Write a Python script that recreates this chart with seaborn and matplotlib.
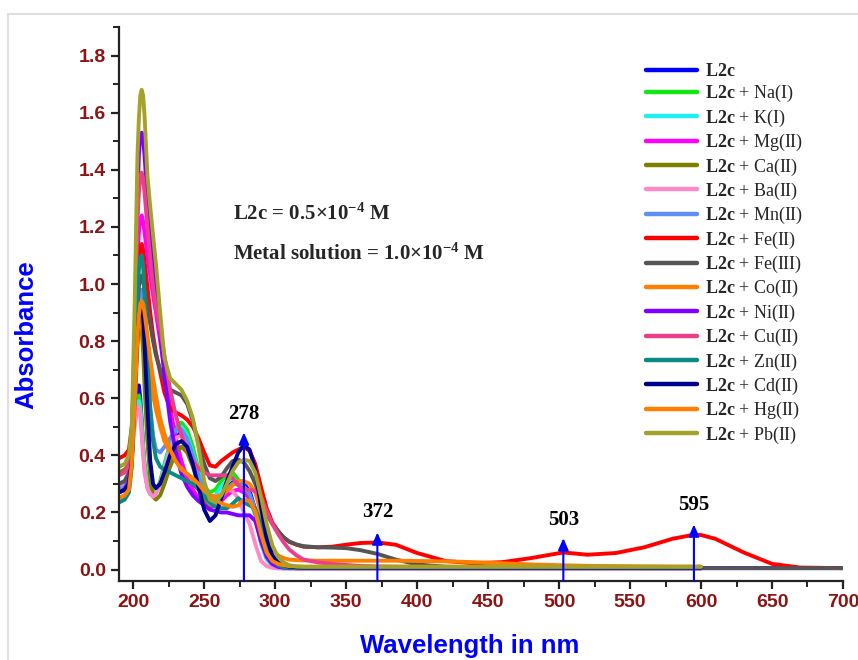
import matplotlib
matplotlib.use("Agg")
import matplotlib.pyplot as plt
import pandas as pd
import seaborn as sns
from matplotlib.lines import Line2D
from matplotlib.ticker import MultipleLocator, FormatStrFormatter

# ---------------------------------------------------------------- wavelengths
WL_UV = [190, 194, 197, 199, 201, 203, 204, 205, 206, 207, 208, 210, 212, 214,
         216, 219, 222, 226, 230, 234, 238, 242, 246, 250, 254, 258, 262, 266,
         270, 274, 278, 282, 286, 290, 294, 298, 302, 306, 310, 315, 320]
WL_VIS = [330, 340, 350, 360, 372, 385, 400, 420, 440, 460, 480, 503, 520, 540,
          560, 580, 595, 600, 610, 630, 650, 670, 700]

# ---------------------------------------------------------------- absorbance, UV part
L2C_UV = [0.27, 0.28, 0.31, 0.40, 0.56, 0.64, 0.645, 0.60, 0.52, 0.43, 0.36, 0.29, 0.265, 0.26,
          0.27, 0.30, 0.35, 0.42, 0.47, 0.48, 0.455, 0.40, 0.32, 0.25, 0.22, 0.225, 0.255, 0.285,
          0.305, 0.31, 0.30, 0.275, 0.21, 0.11, 0.045, 0.018, 0.009, 0.006, 0.005, 0.005, 0.005]
NA_UV = [0.30, 0.31, 0.33, 0.41, 0.54, 0.60, 0.61, 0.58, 0.51, 0.43, 0.37, 0.30, 0.275, 0.265,
         0.275, 0.31, 0.37, 0.44, 0.50, 0.515, 0.49, 0.43, 0.35, 0.29, 0.27, 0.28, 0.31, 0.33,
         0.34, 0.315, 0.28, 0.255, 0.20, 0.10, 0.04, 0.015, 0.008, 0.006, 0.005, 0.005, 0.005]
K_UV = [0.29, 0.30, 0.32, 0.40, 0.52, 0.58, 0.59, 0.56, 0.49, 0.41, 0.35, 0.29, 0.265, 0.26,
        0.27, 0.30, 0.36, 0.43, 0.48, 0.50, 0.47, 0.41, 0.34, 0.28, 0.255, 0.26, 0.29, 0.31,
        0.32, 0.30, 0.27, 0.245, 0.19, 0.09, 0.035, 0.013, 0.007, 0.005, 0.005, 0.005, 0.005]
MG_UV = [0.29, 0.30, 0.33, 0.42, 0.72, 1.08, 1.18, 1.23, 1.24, 1.22, 1.18, 1.10, 1.03, 0.96,
         0.90, 0.80, 0.70, 0.57, 0.46, 0.38, 0.32, 0.28, 0.25, 0.23, 0.22, 0.225, 0.24, 0.26,
         0.275, 0.28, 0.27, 0.25, 0.20, 0.12, 0.05, 0.02, 0.01, 0.007, 0.006, 0.005, 0.005]
CA_UV = [0.34, 0.35, 0.37, 0.45, 0.62, 0.80, 0.85, 0.86, 0.84, 0.76, 0.64, 0.45, 0.32, 0.255,
         0.245, 0.26, 0.30, 0.36, 0.41, 0.43, 0.41, 0.36, 0.30, 0.25, 0.225, 0.23, 0.255, 0.28,
         0.30, 0.305, 0.29, 0.26, 0.20, 0.11, 0.045, 0.018, 0.01, 0.008, 0.007, 0.006, 0.006]
BA_UV = [0.29, 0.30, 0.32, 0.40, 0.50, 0.565, 0.57, 0.54, 0.47, 0.40, 0.34, 0.285, 0.265, 0.255,
         0.265, 0.30, 0.35, 0.42, 0.46, 0.47, 0.445, 0.39, 0.32, 0.265, 0.245, 0.25, 0.265, 0.28,
         0.275, 0.25, 0.20, 0.16, 0.09, 0.03, 0.012, 0.006, 0.004, 0.003, 0.003, 0.003, 0.003]
MN_UV = [0.28, 0.29, 0.32, 0.42, 0.63, 0.88, 0.95, 0.98, 0.98, 0.94, 0.86, 0.70, 0.57, 0.47,
         0.42, 0.41, 0.43, 0.46, 0.49, 0.49, 0.46, 0.40, 0.33, 0.265, 0.23, 0.23, 0.25, 0.28,
         0.30, 0.30, 0.29, 0.265, 0.21, 0.11, 0.045, 0.018, 0.009, 0.006, 0.005, 0.005, 0.005]
FE2_UV = [0.39, 0.40, 0.42, 0.50, 0.72, 1.00, 1.09, 1.13, 1.14, 1.12, 1.08, 0.99, 0.90, 0.82,
          0.76, 0.69, 0.62, 0.565, 0.55, 0.54, 0.525, 0.50, 0.46, 0.41, 0.365, 0.36, 0.38, 0.395,
          0.41, 0.42, 0.43, 0.415, 0.37, 0.29, 0.215, 0.165, 0.135, 0.112, 0.097, 0.087, 0.08]
FE3_UV = [0.30, 0.31, 0.34, 0.43, 0.66, 0.92, 0.99, 1.02, 1.03, 1.01, 0.98, 0.92, 0.86, 0.80,
          0.75, 0.70, 0.66, 0.63, 0.62, 0.61, 0.58, 0.52, 0.44, 0.37, 0.32, 0.31, 0.325, 0.355,
          0.38, 0.385, 0.375, 0.345, 0.30, 0.245, 0.195, 0.16, 0.135, 0.113, 0.098, 0.088, 0.082]
CO_UV = [0.25, 0.26, 0.28, 0.37, 0.56, 0.78, 0.84, 0.87, 0.88, 0.86, 0.82, 0.74, 0.67, 0.61,
         0.56, 0.50, 0.45, 0.41, 0.38, 0.355, 0.335, 0.315, 0.295, 0.275, 0.26, 0.255, 0.26, 0.275,
         0.295, 0.31, 0.31, 0.30, 0.27, 0.20, 0.12, 0.07, 0.05, 0.04, 0.035, 0.033, 0.032]
NI_UV = [0.27, 0.28, 0.31, 0.40, 0.75, 1.30, 1.45, 1.52, 1.53, 1.51, 1.45, 1.30, 1.18, 1.07,
         0.97, 0.83, 0.68, 0.52, 0.41, 0.335, 0.29, 0.26, 0.24, 0.225, 0.21, 0.205, 0.20, 0.20,
         0.195, 0.19, 0.19, 0.19, 0.17, 0.10, 0.045, 0.02, 0.01, 0.007, 0.006, 0.005, 0.005]
CU_UV = [0.33, 0.34, 0.37, 0.46, 0.82, 1.22, 1.32, 1.38, 1.39, 1.37, 1.32, 1.20, 1.09, 0.99,
         0.92, 0.84, 0.75, 0.63, 0.54, 0.47, 0.42, 0.38, 0.355, 0.34, 0.33, 0.33, 0.33, 0.33,
         0.32, 0.295, 0.28, 0.28, 0.275, 0.255, 0.205, 0.16, 0.125, 0.095, 0.07, 0.05, 0.035]
ZN_UV = [0.235, 0.245, 0.27, 0.36, 0.62, 0.96, 1.05, 1.09, 1.10, 1.06, 0.96, 0.74, 0.56, 0.45,
         0.39, 0.36, 0.35, 0.34, 0.33, 0.32, 0.31, 0.30, 0.28, 0.26, 0.235, 0.22, 0.215, 0.215,
         0.23, 0.25, 0.235, 0.225, 0.215, 0.16, 0.085, 0.035, 0.015, 0.008, 0.006, 0.005, 0.005]
CD_UV = [0.27, 0.28, 0.30, 0.38, 0.60, 0.82, 0.89, 0.92, 0.92, 0.88, 0.79, 0.57, 0.38, 0.30,
         0.285, 0.30, 0.34, 0.40, 0.44, 0.45, 0.43, 0.37, 0.29, 0.21, 0.17, 0.19, 0.25, 0.31,
         0.36, 0.41, 0.435, 0.42, 0.35, 0.22, 0.11, 0.05, 0.025, 0.015, 0.01, 0.008, 0.007]
HG_UV = [0.25, 0.26, 0.28, 0.37, 0.58, 0.82, 0.89, 0.93, 0.94, 0.93, 0.90, 0.82, 0.74, 0.67,
         0.61, 0.53, 0.475, 0.42, 0.38, 0.35, 0.335, 0.32, 0.30, 0.275, 0.26, 0.245, 0.232, 0.225,
         0.22, 0.225, 0.245, 0.24, 0.205, 0.125, 0.06, 0.03, 0.02, 0.015, 0.012, 0.011, 0.01]
PB_UV = [0.36, 0.37, 0.40, 0.50, 0.92, 1.45, 1.58, 1.66, 1.68, 1.66, 1.59, 1.38, 1.27, 1.17,
         1.07, 0.90, 0.74, 0.67, 0.65, 0.63, 0.59, 0.53, 0.43, 0.31, 0.245, 0.235, 0.26, 0.30,
         0.345, 0.375, 0.385, 0.38, 0.34, 0.255, 0.16, 0.085, 0.045, 0.025, 0.015, 0.011, 0.01]

# ---------------------------------------------------------------- absorbance, visible part
L2C_VIS = [0.005, 0.005, 0.005, 0.005, 0.005, 0.005, 0.005, 0.005, 0.005, 0.005, 0.005, 0.005,
           0.005, 0.005, 0.005, 0.005, 0.005, 0.005, 0.005, 0.005, 0.005, 0.005, 0.005]
NA_VIS = [0.005, 0.005, 0.005, 0.005, 0.005, 0.005, 0.005, 0.005, 0.005, 0.005, 0.005, 0.005,
          0.005, 0.005, 0.005, 0.005, 0.005, 0.005]
K_VIS = [0.005, 0.005, 0.005, 0.005, 0.005, 0.005, 0.005, 0.005, 0.005, 0.005, 0.005, 0.005,
         0.005, 0.005, 0.005, 0.005, 0.005, 0.005]
MG_VIS = [0.005, 0.005, 0.005, 0.005, 0.005, 0.005, 0.005, 0.005, 0.005, 0.005, 0.005, 0.005,
          0.005, 0.005, 0.005, 0.005, 0.005, 0.005]
CA_VIS = [0.006, 0.006, 0.006, 0.006, 0.006, 0.006, 0.006, 0.006, 0.006, 0.006, 0.006, 0.006,
          0.006, 0.006, 0.006, 0.006, 0.006, 0.006]
BA_VIS = [0.003, 0.003, 0.003, 0.003, 0.003, 0.003, 0.003, 0.003, 0.003, 0.003, 0.003, 0.003,
          0.003, 0.003, 0.003, 0.003, 0.003, 0.003]
MN_VIS = [0.005, 0.005, 0.005, 0.005, 0.005, 0.005, 0.005, 0.005, 0.005, 0.005, 0.005, 0.005,
          0.005, 0.005, 0.005, 0.005, 0.005, 0.005]
FE2_VIS = [0.078, 0.08, 0.087, 0.093, 0.095, 0.087, 0.058, 0.03, 0.022, 0.026, 0.04, 0.06,
           0.052, 0.058, 0.078, 0.108, 0.122, 0.121, 0.108, 0.06, 0.02, 0.007, 0.005]
FE3_VIS = [0.078, 0.077, 0.075, 0.068, 0.055, 0.035, 0.018, 0.01, 0.008, 0.007, 0.007, 0.006,
           0.006, 0.006, 0.005, 0.005, 0.005, 0.005, 0.005, 0.005, 0.005, 0.005, 0.005]
CO_VIS = [0.031, 0.031, 0.031, 0.031, 0.031, 0.031, 0.03, 0.029, 0.026, 0.022, 0.018, 0.015,
          0.013, 0.012, 0.011, 0.01, 0.01, 0.01]
NI_VIS = [0.005, 0.005, 0.005, 0.005, 0.005, 0.005, 0.005, 0.005, 0.005, 0.005, 0.005, 0.005,
          0.005, 0.005, 0.005, 0.005, 0.005, 0.005]
CU_VIS = [0.025, 0.02, 0.016, 0.013, 0.011, 0.01, 0.009, 0.008, 0.008, 0.007, 0.007, 0.007,
          0.006, 0.006, 0.006, 0.006, 0.006, 0.006]
ZN_VIS = [0.005, 0.005, 0.005, 0.005, 0.005, 0.005, 0.005, 0.005, 0.005, 0.005, 0.005, 0.005,
          0.005, 0.005, 0.005, 0.005, 0.005, 0.005]
CD_VIS = [0.007, 0.007, 0.007, 0.007, 0.007, 0.007, 0.007, 0.007, 0.007, 0.007, 0.007, 0.007,
          0.007, 0.007, 0.007, 0.007, 0.007, 0.007]
HG_VIS = [0.01, 0.01, 0.01, 0.01, 0.01, 0.01, 0.01, 0.01, 0.01, 0.01, 0.01, 0.01,
          0.01, 0.01, 0.01, 0.01, 0.01, 0.01]
PB_VIS = [0.01, 0.01, 0.01, 0.01, 0.01, 0.01, 0.01, 0.01, 0.01, 0.01, 0.01, 0.01,
          0.01, 0.01, 0.01, 0.01, 0.01, 0.01]

# ---------------------------------------------------------------- legend labels and colours
LABELS = [r"$\mathbf{L2c}$", r"$\mathbf{L2c}$ + Na(I)", r"$\mathbf{L2c}$ + K(I)",
          r"$\mathbf{L2c}$ + Mg(II)", r"$\mathbf{L2c}$ + Ca(II)", r"$\mathbf{L2c}$ + Ba(II)",
          r"$\mathbf{L2c}$ + Mn(II)", r"$\mathbf{L2c}$ + Fe(II)", r"$\mathbf{L2c}$ + Fe(III)",
          r"$\mathbf{L2c}$ + Co(II)", r"$\mathbf{L2c}$ + Ni(II)", r"$\mathbf{L2c}$ + Cu(II)",
          r"$\mathbf{L2c}$ + Zn(II)", r"$\mathbf{L2c}$ + Cd(II)", r"$\mathbf{L2c}$ + Hg(II)",
          r"$\mathbf{L2c}$ + Pb(II)"]
COLORS = ["#0000FF", "#14E614", "#1EF0F0", "#FF00FF", "#7F7F00", "#FF88C8",
          "#5F8FF5", "#FF0000", "#555555", "#FF7F00", "#8000FF", "#EB3F8C",
          "#0A8A82", "#00008F", "#FF8000", "#A5A22A"]

UV_SETS = [L2C_UV, NA_UV, K_UV, MG_UV, CA_UV, BA_UV, MN_UV, FE2_UV, FE3_UV, CO_UV,
           NI_UV, CU_UV, ZN_UV, CD_UV, HG_UV, PB_UV]
VIS_SETS = [L2C_VIS, NA_VIS, K_VIS, MG_VIS, CA_VIS, BA_VIS, MN_VIS, FE2_VIS, FE3_VIS, CO_VIS,
            NI_VIS, CU_VIS, ZN_VIS, CD_VIS, HG_VIS, PB_VIS]

# Marked band maxima: wavelength, arrow tip and label height
PEAK_WL = [278, 372, 503, 595]
ARROW_TOP = [0.48, 0.13, 0.11, 0.158]
LABEL_Y = [0.545, 0.20, 0.175, 0.225]

# ---------------------------------------------------------------- long-form table
frames = []
for name, uv, vis in zip(LABELS, UV_SETS, VIS_SETS):
    wl = WL_UV + WL_VIS[:len(vis)]
    frames.append(pd.DataFrame({"wl": wl, "absorb": uv + vis, "series": name}))
df = pd.concat(frames, ignore_index=True)

# ---------------------------------------------------------------- style
sns.set_theme(style="ticks")
plt.rcParams.update({
    "font.family": ["Liberation Sans", "DejaVu Sans"],
    "font.weight": "bold",
    "mathtext.fontset": "custom",
    "mathtext.rm": "Liberation Serif",
    "mathtext.bf": "Liberation Serif:bold",
    "mathtext.it": "Liberation Serif:italic",
    "axes.linewidth": 1.6,
    "axes.edgecolor": "#222222",
})

fig = plt.figure(figsize=(8.58, 6.6), dpi=100)
fig.patch.set_facecolor("white")
ax = fig.add_axes([0.1387, 0.1197, 0.8438, 0.8394])

sns.lineplot(data=df, x="wl", y="absorb", hue="series", hue_order=LABELS,
             palette=COLORS, estimator=None, sort=False, linewidth=2.8, ax=ax)

ax.set_xlim(190, 700)
ax.set_ylim(-0.04, 1.9)
ax.xaxis.set_major_locator(MultipleLocator(50))
ax.xaxis.set_minor_locator(MultipleLocator(25))
ax.yaxis.set_major_locator(MultipleLocator(0.2))
ax.yaxis.set_minor_locator(MultipleLocator(0.1))
ax.yaxis.set_major_formatter(FormatStrFormatter("%.1f"))
sns.despine(ax=ax)
ax.tick_params(which="major", direction="out", length=6, width=1.6,
               colors="#222222", labelcolor="#8B1414", labelsize=14)
ax.tick_params(which="minor", direction="out", length=4, width=1.4, colors="#222222")

ax.set_xlabel("Wavelength in nm", color="#0000FF", fontsize=18.5, fontweight="bold")
ax.set_ylabel("Absorbance", color="#0000FF", fontsize=18.5, fontweight="bold")
ax.xaxis.set_label_coords(0.485, -0.095)
ax.yaxis.set_label_coords(-0.112, 0.444)

# peak arrows with wavelength labels
for wl, top, ly in zip(PEAK_WL, ARROW_TOP, LABEL_Y):
    ax.annotate("", xy=(wl, top), xytext=(wl, -0.04),
                arrowprops=dict(arrowstyle="-|>,head_length=0.5,head_width=0.22",
                                color="#0000FF", lw=1.5, shrinkA=0, shrinkB=0,
                                mutation_scale=14), zorder=5)
    ax.text(wl, ly, str(wl), ha="center", va="center", color="black",
            family="Liberation Serif", fontweight="bold", fontsize=15)

# concentrations
ax.text(270.5, 1.245, r"L2c = 0.5×10$^{\mathbf{-4}}$ M", ha="left", va="center",
        family="Liberation Serif", fontweight="bold", fontsize=15)
ax.text(270.5, 1.105, r"Metal solution = 1.0×10$^{\mathbf{-4}}$ M", ha="left", va="center",
        family="Liberation Serif", fontweight="bold", fontsize=15)

# legend
handles, labels = ax.get_legend_handles_labels()
leg = ax.legend(handles, labels, loc="upper left", bbox_to_anchor=(0.728, 0.935),
                frameon=False, borderpad=0, borderaxespad=0, handlelength=2.8,
                handletextpad=0.45, labelspacing=0.18,
                prop={"family": "Liberation Serif", "weight": "normal", "size": 13})
for line in leg.get_lines():
    line.set_linewidth(3.2)

# thin light frame round the picture
fig.add_artist(Line2D([8 / 858, 8 / 858], [0, 1 - 14 / 660], transform=fig.transFigure,
                      color="#dedede", lw=1.5))
fig.add_artist(Line2D([8 / 858, 1], [1 - 14 / 660, 1 - 14 / 660], transform=fig.transFigure,
                      color="#dedede", lw=1.5))

fig.savefig("out.png", dpi=100, facecolor="white")
